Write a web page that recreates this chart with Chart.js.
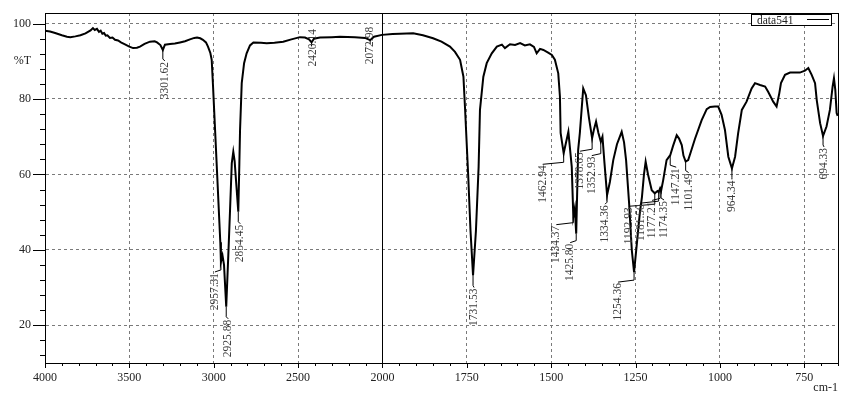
<!DOCTYPE html>
<html><head><meta charset="utf-8">
<script src="https://cdn.jsdelivr.net/npm/chart.js@4.4.1/dist/chart.umd.min.js"></script>
<style>html,body{margin:0;padding:0;background:#fff}#wrap{width:851px;height:401px}</style>
</head><body><div id="wrap"><canvas id="c" width="851" height="401"></canvas></div>
<script>
// ---- data ----
const seriesName = 'data541';
const wavenumbers = [4000,3970,3940,3900,3870,3850,3820,3790,3760,3745,3730,3716,3705,3692,3680,3670,3660,3650,3640,3630,3615,3600,3585,3567,3550,3526,3500,3478,3455,3437,3410,3378,3350,3336,3316,3301.62,3289,3259,3230,3200,3170,3141,3115,3099,3080,3064,3046,3034,3020,3012,3004,2992,2979,2969,2961,2957.31,2948,2939,2925.88,2914,2904,2893,2884,2876,2868,2854.45,2848,2844,2834,2820,2805,2785,2765,2720,2686,2640,2588,2540,2489,2459,2435,2420.14,2406,2370,2300,2252,2163,2103,2072.98,2050,2003,1970,1948,1909,1880,1850,1825,1800,1785,1770,1760,1755,1746,1739,1731.53,1723,1715,1711,1701,1691,1676,1661,1646,1637,1622,1607,1592,1578,1563,1551,1543,1533,1523,1509,1498,1489,1479,1474,1472,1462.94,1449,1439,1434.37,1430,1425.80,1423,1420,1415,1405,1397,1388,1378.65,1373,1367,1360,1352.93,1348,1342,1334.36,1326,1316,1305,1291,1284,1278,1269,1261,1254.36,1246,1237,1231,1225,1220,1213,1202,1192.93,1185,1181.50,1177.21,1174.35,1168,1158,1147.21,1139,1128,1121,1113,1108,1101.49,1094,1086,1074,1054,1039,1029,1015,1005,995,985,975,964.34,955,946,935,921,906,896,881,866,857,842,832,824,819,807,792,763,748,738,728,718,713,703,694.33,684,674,666,662,658,654,651];
const transmittance = [98.1,97.9,97.5,96.9,96.5,96.4,96.6,96.9,97.4,97.8,98.2,98.8,98.3,98.6,97.8,98.1,97.3,97.5,96.8,96.9,96.2,96.3,95.7,95.5,95.0,94.5,93.9,93.5,93.6,93.9,94.6,95.2,95.3,95.0,94.3,93.0,94.4,94.6,94.7,95.0,95.3,95.8,96.2,96.3,96.1,95.7,95.0,93.9,92.2,90.4,83.3,71.8,59.4,49.7,42.0,36.8,38.5,36.0,24.9,38.1,49.7,63.0,66.0,63.5,58.5,50.1,63.0,71.8,84.2,89.5,92.1,94.2,95.0,94.9,94.8,94.9,95.2,95.8,96.4,96.3,95.8,95.0,96.0,96.3,96.4,96.5,96.4,96.2,95.6,96.5,97.0,97.2,97.3,97.4,96.9,96.1,95.2,93.9,92.5,90.4,85.9,77.1,60,45,33.2,45,62,77.1,85.9,89.5,92.1,93.9,94.4,93.5,94.5,94.3,94.8,94.2,94.5,93.8,92.1,93.3,93.0,92.3,91.7,90.4,86.8,80.6,71,65.6,71.3,62,48.8,51,44.3,55,66.5,71,82.8,81,75,69.6,72,74,71,68.7,70,63,54.5,58,63.8,68,71.3,68.5,63.8,52.3,39.9,34.1,41.7,50,54,60,63.4,60,55.8,55.0,55.6,55.3,56.3,55.6,58.5,63.8,65.1,67.5,70.4,69.5,67.8,65,63.4,63.8,66,69.4,74.4,77.3,77.9,78,78,75.8,71.8,64.7,61.6,64.7,70.9,77.1,79.3,82.8,84.2,83.7,83.3,81.9,79.3,78,81.5,84.2,86.4,87,87,87.5,88.2,86.4,84.2,79.7,73.6,70.2,72.7,77.1,83.3,85.5,82.4,76.3,75.5];
const peakLabels = ['3301.62','2957.31','2925.88','2854.45','2420.14','2072.98','1731.53','1462.94','1434.37','1425.80','1378.65','1352.93','1334.36','1254.36','1192.93','1181.50','1177.21','1174.35','1147.21','1101.49','964.34','694.33'];
const peakWavenumbers = [3301.62,2957.31,2925.88,2854.45,2420.14,2072.98,1731.53,1462.94,1434.37,1425.80,1378.65,1352.93,1334.36,1254.36,1192.93,1181.50,1177.21,1174.35,1147.21,1101.49,964.34,694.33];
const peakTransmittance = [93.0,36.8,24.9,50.1,95.0,95.6,33.2,65.6,48.8,44.3,69.6,68.7,54.5,34.1,55.0,55.3,56.3,55.6,65.1,63.4,61.6,70.2];
const xTickWavenumbers = [4000,3500,3000,2500,2000,1750,1500,1250,1000,750];
const yTickLabels = [20,40,60,80,100];

// ---- layout (label offsets in px from the peak: [dx, dy]) ----
const labelOffsets = [[2,12],[-6,11],[2,13],[2,13],[1,-18],[0,-18],[1,13],[-21,12],[-17,9],[-6,10],[-12,14],[-9,15],[-2,10],[-16,11],[-26,14],[-18,12],[-8,13],[3,10],[6,13],[3,12],[0,12],[1,12]];

// axis break at 2000 cm-1: 4000-2000 compressed 2x
function toU(w){ return w >= 2000 ? (4000 - w) / 2 : 1000 + (2000 - w); }
function toW(u){ return u <= 1000 ? 4000 - 2 * u : 3000 - u; }
const isMajorX = u => Math.abs(u % 250) < 1e-6;
const isMajorY = v => Math.abs(v % 20) < 1e-6;

const points = wavenumbers.map((w, i) => ({x: toU(w), y: transmittance[i]}));

const FONT = "'Liberation Serif', 'DejaVu Serif', serif";

const decor = {
  id: 'decor',
  afterDraw(chart) {
    const {ctx, chartArea: a, scales: {x, y}} = chart;
    ctx.save();
    // tick marks
    ctx.strokeStyle = '#000'; ctx.lineWidth = 1;
    ctx.beginPath();
    y.ticks.forEach(t => {
      const py = Math.round(y.getPixelForValue(t.value)) + 0.5;
      const len = isMajorY(t.value) ? 12 : 5;
      ctx.moveTo(a.left - len, py); ctx.lineTo(a.left, py);
    });
    x.ticks.forEach(t => {
      const px = Math.round(x.getPixelForValue(t.value)) + 0.5;
      const len = isMajorX(t.value) ? 5 : 3;
      ctx.moveTo(px, a.bottom); ctx.lineTo(px, a.bottom + len);
    });
    ctx.stroke();
    // frame
    ctx.strokeRect(Math.round(a.left) + 0.5, Math.round(a.top) + 0.5, Math.round(a.right - a.left), Math.round(a.bottom - a.top));
    // break line at 2000
    const bx = Math.round(x.getPixelForValue(toU(2000))) + 0.5;
    ctx.beginPath(); ctx.moveTo(bx, a.top); ctx.lineTo(bx, a.bottom); ctx.stroke();

    // peak annotations
    ctx.font = '11.5px ' + FONT;
    ctx.fillStyle = '#3c3c3c';
    peakWavenumbers.forEach((w, i) => {
      const px = x.getPixelForValue(toU(w));
      const py = y.getPixelForValue(peakTransmittance[i]);
      const [dx, dy] = labelOffsets[i];
      const lx = px + dx, ly = py + dy;
      ctx.beginPath();
      ctx.strokeStyle = '#000'; ctx.lineWidth = 1;
      if (dy > 0) {
        ctx.moveTo(px, py); ctx.lineTo(px, ly - 3); ctx.lineTo(lx, ly - 1);
      } else {
        ctx.moveTo(px, py); ctx.lineTo(px, py + 4);
      }
      ctx.stroke();
      ctx.save();
      ctx.translate(lx, dy > 0 ? ly : py + 6);
      ctx.rotate(-Math.PI / 2);
      ctx.textAlign = 'right';
      ctx.textBaseline = 'middle';
      if (dy > 0) ctx.fillText(peakLabels[i], 0, 0);
      else { ctx.textAlign = 'left'; ctx.fillText(peakLabels[i], dy, 0); }
      ctx.restore();
    });

    // %T and cm-1
    ctx.font = '12px ' + FONT;
    ctx.fillStyle = '#222';
    ctx.textAlign = 'right'; ctx.textBaseline = 'middle';
    ctx.fillText('%T', a.left - 14, y.getPixelForValue(90));
    ctx.fillText('cm-1', a.right, 388);

    // legend
    const lw = 80, lh = 11;
    const lx0 = a.right - 87, ly0 = a.top + 1;
    ctx.fillStyle = '#fff';
    ctx.fillRect(lx0, ly0, lw, lh);
    ctx.strokeStyle = '#000';
    ctx.strokeRect(lx0 + 0.5, ly0 + 0.5, lw, lh);
    ctx.fillStyle = '#222';
    ctx.font = '11.5px ' + FONT;
    ctx.textAlign = 'left';
    ctx.fillText(chart.data.datasets[0].label, lx0 + 6, ly0 + lh / 2 + 1);
    ctx.beginPath();
    ctx.moveTo(lx0 + 56, ly0 + 5.5); ctx.lineTo(lx0 + 78, ly0 + 5.5);
    ctx.stroke();
    ctx.restore();
  }
};

new Chart(document.getElementById('c'), {
  type: 'line',
  data: { datasets: [{ label: seriesName, data: points, borderColor: '#000', borderWidth: 2, pointRadius: 0, tension: 0, fill: false }] },
  options: {
    responsive: false, animation: false, devicePixelRatio: 1,
    layout: { padding: { left: 0, top: 13, right: 13, bottom: 0 } },
    plugins: { legend: { display: false }, tooltip: { enabled: false } },
    scales: {
      x: {
        type: 'linear', min: 0, max: toU(650),
        afterFit: s => { s.height = 38; },
        afterBuildTicks: s => { const t = []; for (let u = 0; u <= toU(650) + 1e-6; u += 50) t.push({value: u}); s.ticks = t; },
        ticks: { autoSkip: false, maxRotation: 0, padding: 3, color: '#222', font: { family: FONT, size: 12 },
          callback: v => isMajorX(v) && xTickWavenumbers.includes(toW(v)) ? String(toW(v)) : '' },
        grid: { drawTicks: true, tickLength: 5, tickColor: 'rgba(0,0,0,0)', lineWidth: 1,
          color: c => (c.tick && isMajorX(c.tick.value) && c.tick.value > 0 && c.tick.value !== 1000 && c.tick.value < toU(650)) ? '#7a7a7a' : 'rgba(0,0,0,0)' },
        border: { display: true, color: '#000', width: 1, dash: [3, 3] }
      },
      y: {
        type: 'linear', min: 10, max: 102.8,
        afterFit: s => { s.width = 45; },
        afterBuildTicks: s => { const t = []; for (let v = 12; v <= 100; v += 4) t.push({value: v}); s.ticks = t; },
        ticks: { autoSkip: false, padding: 2, color: '#222', font: { family: FONT, size: 12 },
          callback: v => yTickLabels.includes(v) ? String(v) : '' },
        grid: { drawTicks: true, tickLength: 12, tickColor: 'rgba(0,0,0,0)', lineWidth: 1,
          color: c => (c.tick && yTickLabels.includes(c.tick.value)) ? '#7a7a7a' : 'rgba(0,0,0,0)' },
        border: { display: true, color: '#000', width: 1, dash: [3, 3] }
      }
    }
  },
  plugins: [decor]
});
</script></body></html>
